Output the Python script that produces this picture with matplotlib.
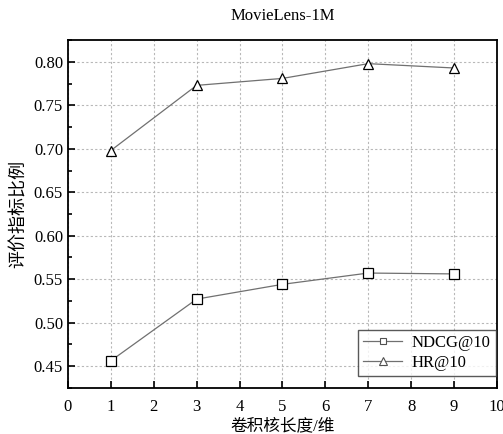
import matplotlib
matplotlib.use("Agg")
import matplotlib.pyplot as plt
from matplotlib.ticker import MultipleLocator, FormatStrFormatter
from matplotlib.lines import Line2D

kernel_len = [1, 3, 5, 7, 9]
ndcg = [0.456, 0.527, 0.544, 0.557, 0.556]
hr = [0.698, 0.773, 0.781, 0.798, 0.793]
title = "MovieLens-1M"
xlabel = "卷积核长度/维"
ylabel = "评价指标比例"
series_names = ["NDCG@10", "HR@10"]

plt.rcParams['font.family'] = ['Liberation Serif', 'Noto Sans CJK SC']

fig = plt.figure(figsize=(5.03, 4.34), dpi=100)
ax = fig.add_axes([0.135, 0.106, 0.853, 0.802])

ax.plot(kernel_len, ndcg, color='#707070', lw=0.9, marker='s', ms=6.5,
        mfc='white', mec='black', mew=0.9)
ax.plot(kernel_len, hr, color='#707070', lw=0.9, marker='^', ms=7.5,
        mfc='white', mec='black', mew=0.9)

ax.set_xlim(0, 10)
ax.set_ylim(0.4247, 0.8253)
ax.xaxis.set_major_locator(MultipleLocator(1))
ax.yaxis.set_major_locator(MultipleLocator(0.05))
ax.yaxis.set_minor_locator(MultipleLocator(0.025))
ax.yaxis.set_major_formatter(FormatStrFormatter('%.2f'))
ax.tick_params(direction='in', which='both', labelsize=12, width=1.2)
ax.tick_params(which='major', length=5)
ax.tick_params(which='minor', length=3)
ax.tick_params(axis='x', pad=8)
ax.grid(True, which='major', linestyle=(0, (2, 2)), color='#b8b8b8', lw=0.8)
for s in ax.spines.values():
    s.set_linewidth(1.3)

ax.set_title(title, fontsize=12, pad=14)
ax.set_xlabel(xlabel, fontsize=12, labelpad=2)
ax.set_ylabel(ylabel, fontsize=13)

handles = [
    Line2D([], [], color='#707070', lw=0.9, marker='s', ms=5, mfc='white', mec='#505050', mew=0.8),
    Line2D([], [], color='#707070', lw=0.9, marker='^', ms=6, mfc='white', mec='#505050', mew=0.8),
]
leg = ax.legend(handles, series_names, loc='lower right', fontsize=12, frameon=True,
                fancybox=False, edgecolor='#303030', bbox_to_anchor=(0.997, 0.035),
                borderaxespad=0.0, handlelength=2.3, borderpad=0.3, labelspacing=0.25,
                handletextpad=0.6)
leg.get_frame().set_linewidth(1.0)

fig.savefig('out.png', dpi=100)
